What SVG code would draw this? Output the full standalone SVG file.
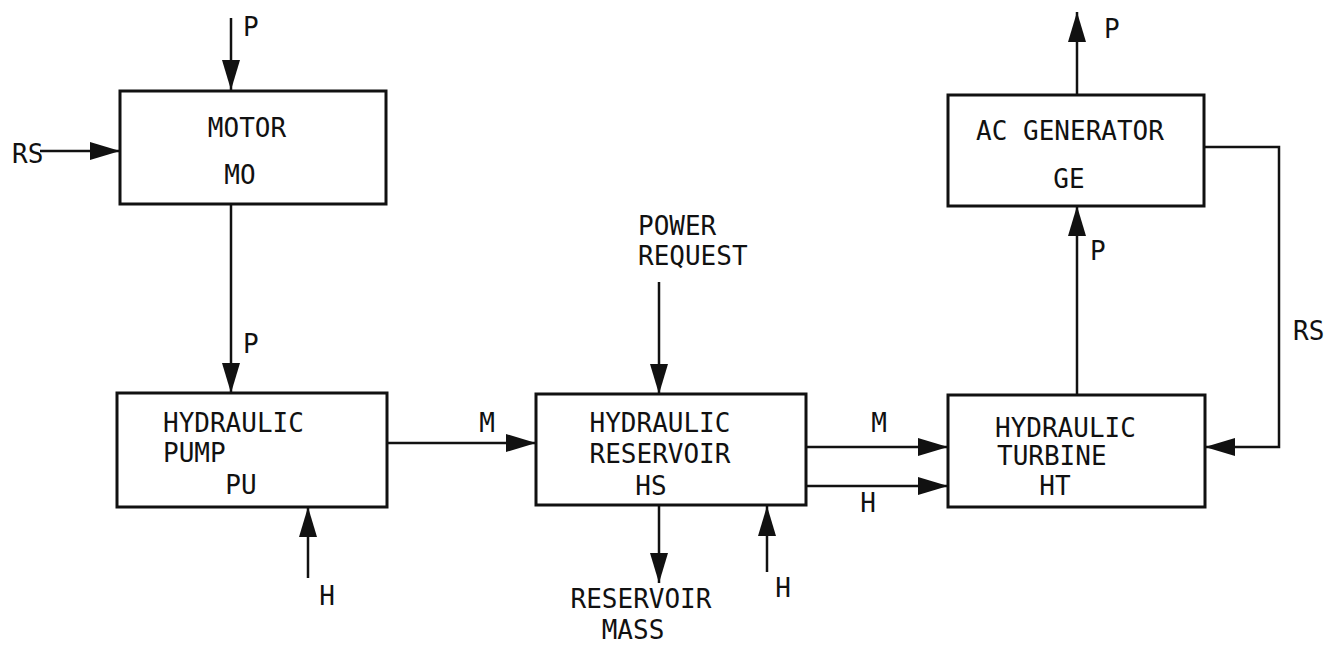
<svg xmlns="http://www.w3.org/2000/svg" width="1343" height="646" viewBox="0 0 1343 646">
<style>
.box{fill:#fff;stroke:#111;stroke-width:3}
.ln{fill:none;stroke:#111;stroke-width:2.5}
.t{font-family:"DejaVu Sans Mono","Liberation Mono",monospace;font-size:26px;fill:#111}
.m{text-anchor:middle}
</style>
<defs>
<marker id="ah" viewBox="0 0 30 18" refX="30" refY="9" markerWidth="30" markerHeight="18" markerUnits="userSpaceOnUse" orient="auto">
<path d="M0,0 L30,9 L0,18 z" fill="#111"/>
</marker>
</defs>
<rect width="1343" height="646" fill="#fff"/>
<g id="connectors">
<line class="ln" x1="231" y1="18" x2="231" y2="90" marker-end="url(#ah)"/>
<line class="ln" x1="40" y1="151" x2="120" y2="151" marker-end="url(#ah)"/>
<line class="ln" x1="231" y1="204" x2="231" y2="393" marker-end="url(#ah)"/>
<line class="ln" x1="387" y1="443" x2="536" y2="443" marker-end="url(#ah)"/>
<line class="ln" x1="308" y1="578" x2="308" y2="507" marker-end="url(#ah)"/>
<line class="ln" x1="659" y1="282" x2="659" y2="394" marker-end="url(#ah)"/>
<line class="ln" x1="659" y1="505" x2="659" y2="583" marker-end="url(#ah)"/>
<line class="ln" x1="767" y1="572" x2="767" y2="506" marker-end="url(#ah)"/>
<line class="ln" x1="806" y1="447" x2="948" y2="447" marker-end="url(#ah)"/>
<line class="ln" x1="806" y1="486" x2="948" y2="486" marker-end="url(#ah)"/>
<line class="ln" x1="1077" y1="395" x2="1077" y2="206" marker-end="url(#ah)"/>
<line class="ln" x1="1077" y1="95" x2="1077" y2="12" marker-end="url(#ah)"/>
<polyline class="ln" points="1204,147 1279,147 1279,447 1205,447" marker-end="url(#ah)"/>
<text class="t" x="243" y="36">P</text>
<text class="t" x="12" y="163">RS</text>
<text class="t" x="243" y="353">P</text>
<text class="t m" x="487" y="432">M</text>
<text class="t m" x="327" y="605">H</text>
<text class="t" x="638" y="235">POWER</text>
<text class="t" x="638" y="265">REQUEST</text>
<text class="t m" x="641" y="608">RESERVOIR</text>
<text class="t m" x="633" y="639">MASS</text>
<text class="t m" x="783" y="597">H</text>
<text class="t m" x="879" y="432">M</text>
<text class="t m" x="868" y="512">H</text>
<text class="t" x="1090" y="260">P</text>
<text class="t" x="1104" y="38">P</text>
<text class="t" x="1293" y="340">RS</text>
</g>
<g id="motor">
<rect class="box" x="120" y="91" width="266" height="113"/>
<text class="t m" x="247" y="137">MOTOR</text>
<text class="t m" x="240" y="184">MO</text>
</g>
<g id="pump">
<rect class="box" x="117" y="393" width="270" height="114"/>
<text class="t" x="163" y="432">HYDRAULIC</text>
<text class="t" x="163" y="462">PUMP</text>
<text class="t m" x="241" y="494">PU</text>
</g>
<g id="reservoir">
<rect class="box" x="536" y="394" width="270" height="111"/>
<text class="t m" x="660" y="432">HYDRAULIC</text>
<text class="t m" x="660" y="463">RESERVOIR</text>
<text class="t m" x="651" y="495">HS</text>
</g>
<g id="turbine">
<rect class="box" x="948" y="395" width="257" height="112"/>
<text class="t" x="995" y="437">HYDRAULIC</text>
<text class="t" x="997" y="465">TURBINE</text>
<text class="t m" x="1055" y="495">HT</text>
</g>
<g id="generator">
<rect class="box" x="948" y="95" width="256" height="111"/>
<text class="t m" x="1070" y="140">AC GENERATOR</text>
<text class="t m" x="1069" y="188">GE</text>
</g>
</svg>
